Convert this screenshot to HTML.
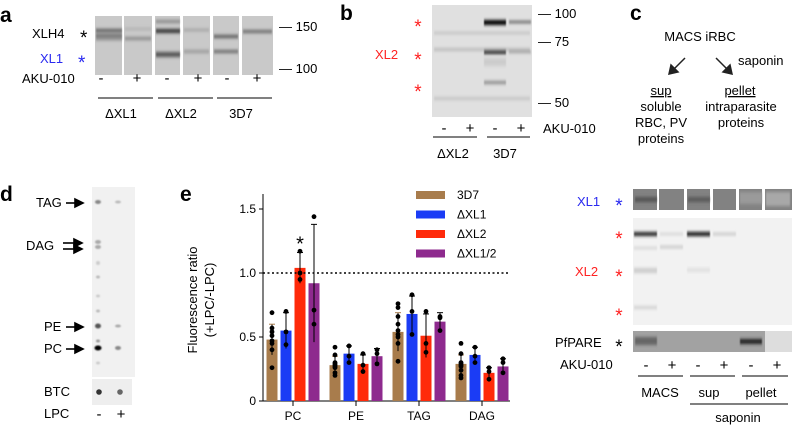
<!DOCTYPE html>
<html><head><meta charset="utf-8"><style>
html,body{margin:0;padding:0;background:#fff}
svg{display:block;font-family:"Liberation Sans",Arial,sans-serif}
</style></head><body>
<svg id="fig" width="792" height="426" viewBox="0 0 792 426">
<defs>
<filter id="bl" x="-20%" y="-200%" width="140%" height="500%"><feGaussianBlur stdDeviation="0.6 1.5"/></filter>
<filter id="bl2"><feGaussianBlur stdDeviation="0.8"/></filter>
</defs>

<!-- Panel a -->
<g>
<text x="0" y="22" font-size="21" font-weight="bold">a</text>
<rect x="95" y="16" width="178" height="59" fill="#c9c9c9"/>
<g fill="#fff"><rect x="122" y="16" width="2" height="59"/><rect x="152" y="16" width="3" height="59"/><rect x="180" y="16" width="3" height="59"/><rect x="210" y="16" width="3" height="59"/><rect x="239" y="16" width="3" height="59"/></g>
<g filter="url(#bl)">
<rect x="96" y="29" width="26" height="3" fill="#555"/><rect x="96" y="34" width="26" height="3" fill="#666"/><rect x="96" y="38" width="26" height="2" fill="#777"/>
<rect x="125" y="28" width="26" height="2" fill="#aaa"/><rect x="125" y="37" width="26" height="3" fill="#888"/>
<rect x="156" y="29" width="24" height="4" fill="#333"/><rect x="156" y="52" width="24" height="5" fill="#555"/><rect x="156" y="20" width="24" height="3" fill="#888"/>
<rect x="184" y="29" width="25" height="2" fill="#999"/><rect x="184" y="50" width="25" height="3" fill="#999"/>
<rect x="214" y="35" width="24" height="3" fill="#555"/><rect x="214" y="50" width="24" height="3" fill="#666"/>
<rect x="243" y="30" width="29" height="3" fill="#666"/>
</g>
<text x="32" y="38" font-size="13">XLH4</text>
<text x="80" y="44" font-size="19">*</text>
<text x="40" y="63" font-size="13" fill="#2a2af0">XL1</text>
<text x="78" y="69" font-size="19" fill="#2a2af0">*</text>
<text x="279" y="31" font-size="13">— 150</text>
<text x="279" y="73" font-size="13">— 100</text>
<text x="22" y="83" font-size="13">AKU-010</text>
<g font-size="15" text-anchor="middle"><text x="101" y="83">-</text><text x="137" y="83">+</text><text x="167" y="83">-</text><text x="198" y="83">+</text><text x="227" y="83">-</text><text x="257" y="83">+</text></g>
<g stroke="#000" stroke-width="1"><line x1="98" y1="98" x2="153" y2="98"/><line x1="158" y1="98" x2="213" y2="98"/><line x1="217" y1="98" x2="272" y2="98"/></g>
<g font-size="13" text-anchor="middle"><text x="121" y="118">ΔXL1</text><text x="181" y="118">ΔXL2</text><text x="241" y="118">3D7</text></g>
</g>

<!-- Panel b -->
<g>
<text x="340" y="20" font-size="21" font-weight="bold">b</text>
<rect x="432" y="5" width="100" height="112" fill="#e0e0e0"/>
<g filter="url(#bl)">
<rect x="434" y="32" width="96" height="2" fill="#bbb"/><rect x="434" y="48" width="96" height="3" fill="#bbb"/><rect x="434" y="97" width="96" height="3" fill="#c4c4c4"/>
<rect x="484" y="20" width="22" height="5" fill="#000"/><rect x="509" y="21" width="22" height="2" fill="#444"/>
<rect x="484" y="50" width="22" height="4" fill="#222"/><rect x="509" y="51" width="22" height="2" fill="#999"/>
<rect x="484" y="81" width="22" height="3" fill="#888"/><rect x="484" y="58" width="22" height="8" fill="#ccc"/>
</g>
<text x="538" y="18" font-size="13">— 100</text>
<text x="538" y="46" font-size="13">— 75</text>
<text x="538" y="107" font-size="13">— 50</text>
<g fill="#f22" font-size="19" text-anchor="middle"><text x="418" y="33">*</text><text x="418" y="66">*</text><text x="418" y="98">*</text></g>
<text x="375" y="59" font-size="13" fill="#f22">XL2</text>
<g font-size="15" text-anchor="middle"><text x="444" y="133">-</text><text x="470" y="133">+</text><text x="495" y="133">-</text><text x="521" y="133">+</text></g>
<text x="543" y="133" font-size="13">AKU-010</text>
<g stroke="#000"><line x1="433" y1="137" x2="477" y2="137"/><line x1="487" y1="137" x2="530" y2="137"/></g>
<g font-size="13" text-anchor="middle"><text x="453" y="158">ΔXL2</text><text x="505" y="158">3D7</text></g>
</g>

<!-- Panel c -->
<g font-size="13">
<text x="630" y="20" font-size="21" font-weight="bold">c</text>
<text x="700" y="41" text-anchor="middle">MACS iRBC</text>
<g stroke="#222" stroke-width="1.5" fill="#222">
<line x1="685" y1="58" x2="673" y2="70"/><polygon points="669,74 671,65 678,72"/>
<line x1="716" y1="58" x2="728" y2="70"/><polygon points="732,74 723,72 730,65"/>
</g>
<text x="738" y="65">saponin</text>
<text x="661" y="95" text-anchor="middle" text-decoration="underline">sup</text>
<text x="661" y="111" text-anchor="middle">soluble</text>
<text x="661" y="127" text-anchor="middle">RBC, PV</text>
<text x="661" y="143" text-anchor="middle">proteins</text>
<text x="740" y="95" text-anchor="middle" text-decoration="underline">pellet</text>
<text x="741" y="111" text-anchor="middle">intraparasite</text>
<text x="741" y="127" text-anchor="middle">proteins</text>
</g>

<!-- Panel d -->
<g font-size="13">
<text x="0" y="201" font-size="21" font-weight="bold">d</text>
<rect x="92" y="187" width="43" height="190" fill="#f1f1f1"/>
<g filter="url(#bl2)">
<ellipse cx="98" cy="202" rx="3" ry="2" fill="#888"/><ellipse cx="118" cy="202" rx="3" ry="1.5" fill="#bbb"/>
<ellipse cx="98" cy="242" rx="3" ry="2" fill="#aaa"/><ellipse cx="98" cy="247" rx="3" ry="2" fill="#aaa"/>
<ellipse cx="98" cy="263" rx="2" ry="2" fill="#ccc"/><ellipse cx="98" cy="277" rx="2" ry="1.5" fill="#bbb"/>
<ellipse cx="98" cy="296" rx="2" ry="1.5" fill="#ccc"/><ellipse cx="98" cy="311" rx="2" ry="1.5" fill="#bbb"/>
<ellipse cx="98" cy="326" rx="3" ry="2.5" fill="#555"/><ellipse cx="118" cy="326" rx="3" ry="1.5" fill="#aaa"/>
<ellipse cx="98" cy="341" rx="2" ry="1.5" fill="#999"/>
<ellipse cx="98" cy="348" rx="3.5" ry="2.5" fill="#000"/><ellipse cx="118" cy="348" rx="3" ry="2" fill="#888"/>
<ellipse cx="98" cy="363" rx="2" ry="1.5" fill="#ccc"/>
</g>
<rect x="92" y="379" width="40" height="26" fill="#eee"/>
<circle cx="99" cy="392" r="2.8" fill="#333"/><circle cx="120" cy="392" r="2.8" fill="#666"/>
<text x="36" y="207">TAG</text>
<text x="26" y="250">DAG</text>
<text x="44" y="331">PE</text>
<text x="44" y="353">PC</text>
<text x="44" y="396">BTC</text>
<text x="44" y="418">LPC</text>
<g font-size="15" text-anchor="middle"><text x="99" y="419">-</text><text x="121" y="419">+</text></g>
<g stroke="#000" stroke-width="1.6" fill="#000">
<line x1="66" y1="203" x2="77" y2="203"/><polygon points="83,203 75,199 75,207"/>
<line x1="63" y1="243" x2="76" y2="243"/><polygon points="82,243 74,239 74,247"/>
<line x1="63" y1="249" x2="76" y2="249"/><polygon points="82,249 74,245 74,253"/>
<line x1="66" y1="327" x2="77" y2="327"/><polygon points="83,327 75,323 75,331"/>
<line x1="66" y1="349" x2="77" y2="349"/><polygon points="83,349 75,345 75,353"/>
</g>
</g>

<!-- Panel e chart -->
<g id="chart">
<text x="180" y="201" font-size="21" font-weight="bold">e</text>
<text transform="translate(197,300) rotate(-90)" font-size="13" text-anchor="middle">Fluorescence ratio</text>
<text transform="translate(214,300) rotate(-90)" font-size="13" text-anchor="middle">(+LPC/-LPC)</text>
</g>

<!-- Right panel -->
<g font-size="13">
<rect x="633" y="189" width="159" height="21" fill="#828282"/>
<g fill="#fff"><rect x="657" y="189" width="2" height="21"/><rect x="684" y="189" width="3" height="21"/><rect x="710" y="189" width="3" height="21"/><rect x="736" y="189" width="3" height="21"/><rect x="762" y="189" width="3" height="21"/></g>
<g filter="url(#bl)"><rect x="635" y="197" width="22" height="5" fill="#555"/><rect x="688" y="197" width="22" height="5" fill="#5a5a5a"/><rect x="740" y="192" width="22" height="12" fill="#9a9a9a"/><rect x="766" y="192" width="24" height="14" fill="#a8a8a8"/></g>
<rect x="633" y="218" width="159" height="107" fill="#f2f2f2"/>
<g filter="url(#bl)">
<rect x="634" y="232" width="23" height="4" fill="#222"/><rect x="660" y="233" width="23" height="2" fill="#ccc"/>
<rect x="687" y="232" width="23" height="4" fill="#111"/><rect x="713" y="233" width="23" height="2" fill="#bbb"/>
<rect x="634" y="247" width="23" height="2" fill="#ccc"/><rect x="660" y="246" width="23" height="2" fill="#bbb"/>
<rect x="634" y="268" width="23" height="5" fill="#ccc"/><rect x="687" y="268" width="23" height="4" fill="#e0e0e0"/>
<rect x="634" y="306" width="23" height="3" fill="#d0d0d0"/>
</g>
<rect x="633" y="331" width="159" height="21" fill="#a2a2a2"/>
<rect x="765" y="331" width="27" height="21" fill="#ddd"/>
<g filter="url(#bl)"><rect x="635" y="337" width="22" height="8" fill="#666"/><rect x="740" y="339" width="22" height="5" fill="#222"/></g>
<text x="577" y="206" fill="#2a2af0">XL1</text>
<text x="619" y="212" font-size="19" fill="#2a2af0" text-anchor="middle">*</text>
<text x="575" y="276" fill="#f22">XL2</text>
<g fill="#f22" font-size="19" text-anchor="middle"><text x="619" y="245">*</text><text x="619" y="283">*</text><text x="619" y="322">*</text></g>
<text x="555" y="347">PfPARE</text>
<text x="619" y="353" font-size="19" text-anchor="middle">*</text>
<text x="560" y="369">AKU-010</text>
<g font-size="15" text-anchor="middle"><text x="646" y="370">-</text><text x="672" y="370">+</text><text x="698" y="370">-</text><text x="724" y="370">+</text><text x="751" y="370">-</text><text x="777" y="370">+</text></g>
<g stroke="#000"><line x1="638" y1="376" x2="683" y2="376"/><line x1="690" y1="376" x2="735" y2="376"/><line x1="742" y1="376" x2="788" y2="376"/><line x1="690" y1="404" x2="788" y2="404"/></g>
<g text-anchor="middle"><text x="660" y="397">MACS</text><text x="709" y="397">sup</text><text x="761" y="397">pellet</text><text x="738" y="422">saponin</text></g>
</g>
</svg>
<script>
var categories = ["PC","PE","TAG","DAG"];
var seriesNames = ["3D7","ΔXL1","ΔXL2","ΔXL1/2"];
var mean3D7 = [0.48,0.28,0.54,0.29];
var meanXL1 = [0.55,0.37,0.68,0.36];
var meanXL2 = [1.04,0.29,0.51,0.22];
var meanXL12 = [0.92,0.35,0.62,0.27];
var sd3D7 = [0.12,0.07,0.15,0.07];
var sdXL1 = [0.14,0.06,0.14,0.06];
var sdXL2 = [0.12,0.07,0.17,0.04];
var sdXL12 = [0.46,0.06,0.07,0.06];
var pts3D7 = [[0.69,0.57,0.54,0.51,0.47,0.45,0.40,0.26],[0.42,0.36,0.30,0.29,0.28,0.27,0.26,0.22,0.20],[0.76,0.73,0.66,0.60,0.55,0.52,0.50,0.45,0.31],[0.45,0.37,0.30,0.29,0.28,0.27,0.24,0.20,0.18]];
var ptsXL1 = [[0.70,0.54,0.44],[0.43,0.35,0.30],[0.83,0.70,0.52],[0.42,0.35,0.30]];
var ptsXL2 = [[1.17,1.00,0.95],[0.37,0.28,0.23],[0.70,0.45,0.38],[0.26,0.23,0.17]];
var ptsXL12 = [[1.44,0.71,0.60],[0.40,0.37,0.29],[0.66,0.65,0.55],[0.33,0.30,0.22]];
var yTicks = [0,0.5,1.0,1.5];
var yTickLabels = ["0","0.5","1.0","1.5"];
var refLine = 1.0;

(function(){
var NS="http://www.w3.org/2000/svg";
var g=document.getElementById('chart');
function el(t,a,p){var e=document.createElementNS(NS,t);for(var k in a)e.setAttribute(k,a[k]);(p||g).appendChild(e);return e;}
var x0=263,xEnd=510,yBase=401,yTop=194;
function y(v){return yBase-v*128;}
var step=63,first=293;
function xc(i){return first+i*step;}
var offs=[-21,-7,7,21],bw=11;
var colors=["#a87c4c","#1b3cf5","#ff2a0a","#8e2a8e"];
var means=[mean3D7,meanXL1,meanXL2,meanXL12],sds=[sd3D7,sdXL1,sdXL2,sdXL12],pts=[pts3D7,ptsXL1,ptsXL2,ptsXL12];
var ya=el('line',{x1:x0,y1:yTop,x2:x0,y2:yBase,stroke:'#000','stroke-width':1});


var xa=el('line',{x1:x0,y1:yBase,x2:xEnd,y2:yBase,stroke:'#000','stroke-width':1});


yTicks.forEach(function(v,i){
 el('line',{x1:x0-4,y1:y(v),x2:x0,y2:y(v),stroke:'#000'});
 var t=el('text',{x:x0-7,y:y(v)+4,'font-size':12,'text-anchor':'end'});t.textContent=yTickLabels[i];
 
 
});
categories.forEach(function(c,i){
 el('line',{x1:xc(i),y1:yBase,x2:xc(i),y2:yBase+5,stroke:'#000'});
 var t=el('text',{x:xc(i),y:yBase+19,'font-size':12,'text-anchor':'middle'});t.textContent=c;
 
 
});
for(var s=0;s<4;s++){
 for(var i=0;i<categories.length;i++){
  var cx=xc(i)+offs[s],m=means[s][i],sd=sds[s][i];
  var b=el('rect',{x:cx-bw/2,y:y(m),width:bw,height:yBase-y(m),fill:colors[s]});
  
  
  var ec=s===0?'#a87c4c':'#000';
  el('line',{x1:cx,y1:y(m+sd),x2:cx,y2:y(Math.max(0,m-sd)),stroke:'#000','stroke-width':1});
  el('line',{x1:cx-3,y1:y(m+sd),x2:cx+3,y2:y(m+sd),stroke:ec,'stroke-width':1});
  pts[s][i].forEach(function(v){
   var d=el('circle',{cx:cx,cy:y(v),r:2.4,fill:'#000'});
   
   
  });
 }
}
var rl=el('line',{x1:x0,y1:y(refLine),x2:xEnd,y2:y(refLine),stroke:'#000','stroke-width':1.5,'stroke-dasharray':'2,2.5'});


var st=el('text',{x:xc(0)+7,y:y(meanXL2[0]+sdXL2[0])-2,'font-size':20,'text-anchor':'middle'});st.textContent='*';


seriesNames.forEach(function(n,s){
 var ly=195+s*19.5;
 var r=el('rect',{x:416,y:ly-4,width:29,height:8,fill:colors[s]});
 
 
 var t=el('text',{x:457,y:ly+4,'font-size':12});t.textContent=n;
 
 
});
})();
</script>
</body></html>
